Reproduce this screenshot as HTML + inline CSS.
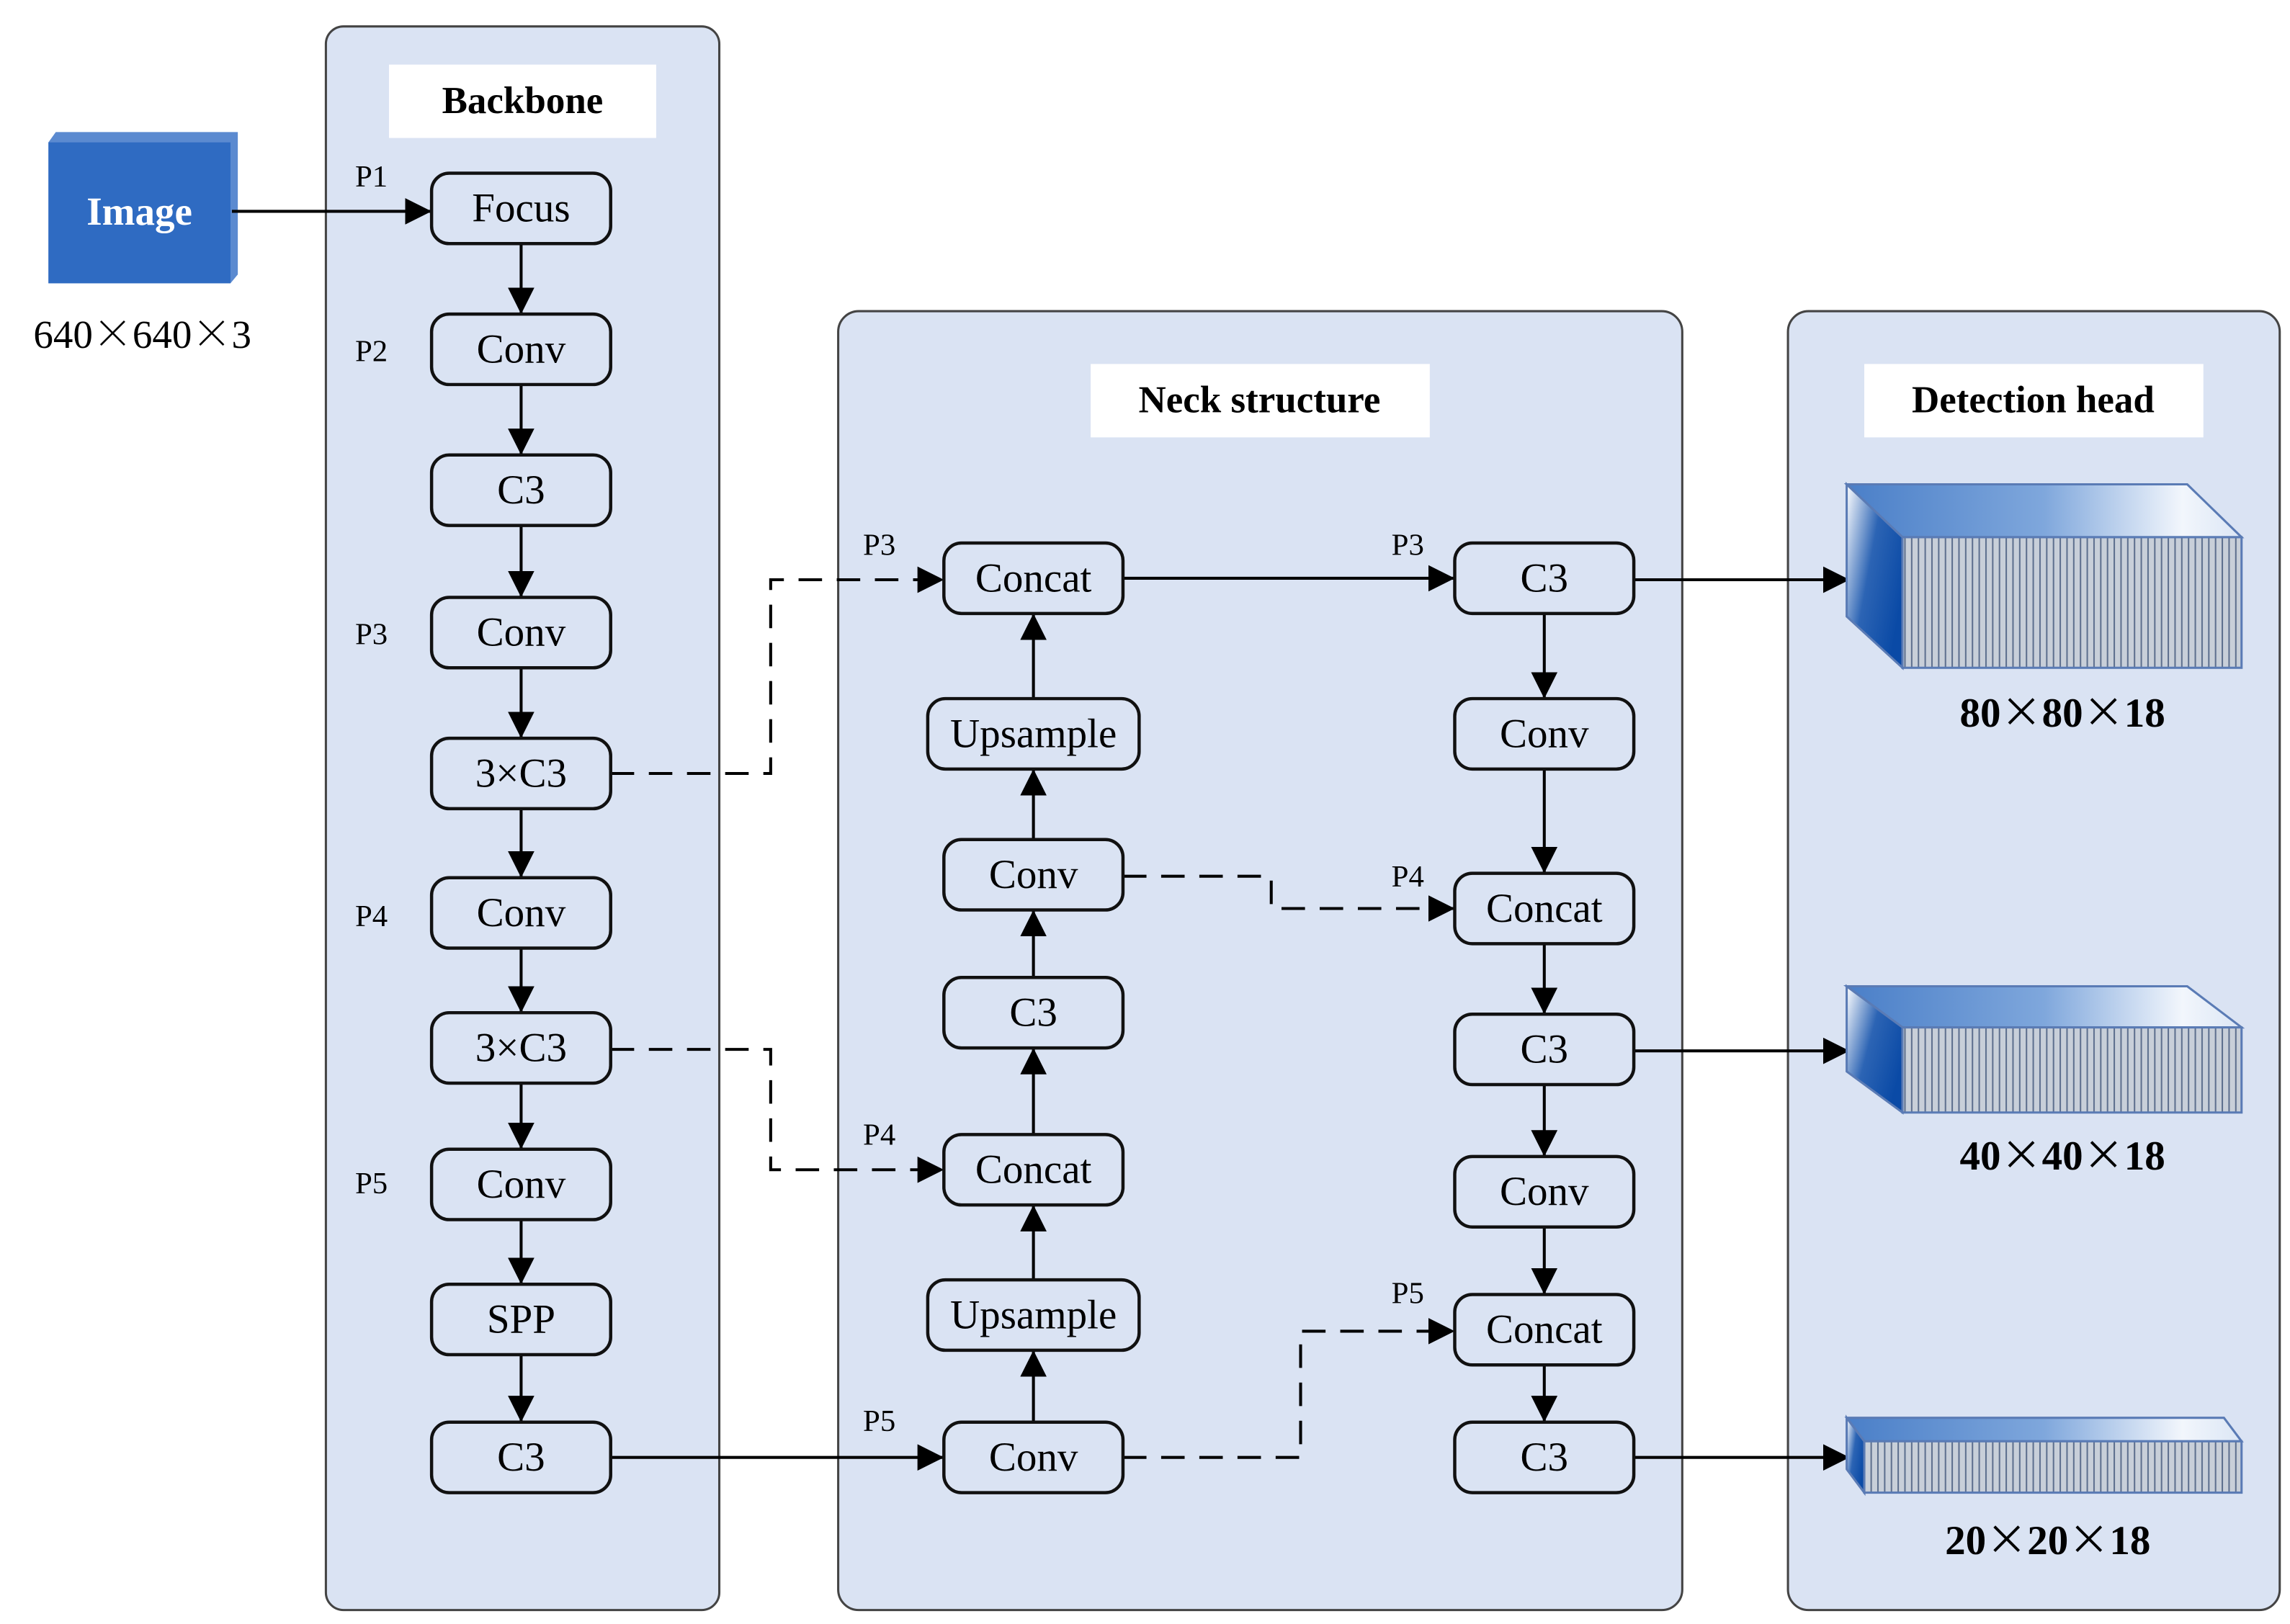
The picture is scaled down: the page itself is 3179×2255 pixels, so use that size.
<!DOCTYPE html>
<html><head><meta charset="utf-8"><style>html,body{margin:0;padding:0;background:#fff}svg{display:block}</style></head>
<body>
<svg width="3179" height="2255" viewBox="0 0 1560 1106.5" preserveAspectRatio="none" xmlns="http://www.w3.org/2000/svg" font-family="'Liberation Serif', serif">
<defs>
<marker id="ah" viewBox="0 0 10 10" refX="10" refY="5" markerWidth="18" markerHeight="18" markerUnits="userSpaceOnUse" orient="auto"><path d="M0,0L10,5L0,10z" fill="#000"/></marker>
<linearGradient id="top" x1="0" y1="0" x2="1" y2="0"><stop offset="0" stop-color="#4a7fc8"/><stop offset="0.5" stop-color="#7fa7dc"/><stop offset="0.85" stop-color="#f2f6fc"/><stop offset="1" stop-color="#dbe6f5"/></linearGradient>
<linearGradient id="side" x1="0" y1="0" x2="1" y2="0.6"><stop offset="0" stop-color="#ffffff"/><stop offset="0.5" stop-color="#2c64b4"/><stop offset="1" stop-color="#0a4aa6"/></linearGradient>
<pattern id="stripes" width="4.6" height="10" patternUnits="userSpaceOnUse"><rect width="4.6" height="10" fill="#c8cfd9"/><rect width="1" height="10" fill="#5d6f8e"/></pattern>
</defs>

<rect x="222" y="18" width="268" height="1079" rx="12" fill="#dae3f3" stroke="#444" stroke-width="1.5"/>
<rect x="571" y="212" width="575" height="885" rx="14" fill="#dae3f3" stroke="#444" stroke-width="1.5"/>
<rect x="1218" y="212" width="335" height="885" rx="14" fill="#dae3f3" stroke="#444" stroke-width="1.5"/>
<rect x="265" y="44" width="182" height="50" fill="#fff"/>
<rect x="743" y="248" width="231" height="50" fill="#fff"/>
<rect x="1270" y="248" width="231" height="50" fill="#fff"/>
<g font-weight="bold" font-size="26" text-anchor="middle">
<text x="356" y="77">Backbone</text>
<text x="858" y="281">Neck structure</text>
<text x="1385" y="281">Detection head</text>
</g>

<polygon points="33,97 38,90 162,90 162,187 157,193 33,193" fill="#5b8ad0"/>
<rect x="33" y="97" width="124" height="96" fill="#2f6bc2"/>
<text x="95" y="153" font-size="27" font-weight="bold" fill="#fff" text-anchor="middle">Image</text>
<text x="97" y="237" font-size="27" text-anchor="middle">640<tspan font-family="'Noto Sans CJK SC', sans-serif" font-weight="300">×</tspan>640<tspan font-family="'Noto Sans CJK SC', sans-serif" font-weight="300">×</tspan>3</text>

<g stroke="#000" stroke-width="2" fill="none">
<line x1="158" y1="144" x2="294" y2="144" marker-end="url(#ah)"/>
<line x1="355" y1="166" x2="355" y2="214" marker-end="url(#ah)"/>
<line x1="355" y1="262" x2="355" y2="310" marker-end="url(#ah)"/>
<line x1="355" y1="358" x2="355" y2="407" marker-end="url(#ah)"/>
<line x1="355" y1="455" x2="355" y2="503" marker-end="url(#ah)"/>
<line x1="355" y1="551" x2="355" y2="598" marker-end="url(#ah)"/>
<line x1="355" y1="646" x2="355" y2="690" marker-end="url(#ah)"/>
<line x1="355" y1="738" x2="355" y2="783" marker-end="url(#ah)"/>
<line x1="355" y1="831" x2="355" y2="875" marker-end="url(#ah)"/>
<line x1="355" y1="923" x2="355" y2="969" marker-end="url(#ah)"/>
<line x1="416" y1="993" x2="643" y2="993" marker-end="url(#ah)"/>
<line x1="704" y1="969" x2="704" y2="920" marker-end="url(#ah)"/>
<line x1="704" y1="872" x2="704" y2="821" marker-end="url(#ah)"/>
<line x1="704" y1="773" x2="704" y2="714" marker-end="url(#ah)"/>
<line x1="704" y1="666" x2="704" y2="620" marker-end="url(#ah)"/>
<line x1="704" y1="572" x2="704" y2="524" marker-end="url(#ah)"/>
<line x1="704" y1="476" x2="704" y2="418" marker-end="url(#ah)"/>
<line x1="765" y1="394" x2="991" y2="394" marker-end="url(#ah)"/>
<line x1="1052" y1="418" x2="1052" y2="476" marker-end="url(#ah)"/>
<line x1="1052" y1="524" x2="1052" y2="595" marker-end="url(#ah)"/>
<line x1="1052" y1="643" x2="1052" y2="691" marker-end="url(#ah)"/>
<line x1="1052" y1="739" x2="1052" y2="788" marker-end="url(#ah)"/>
<line x1="1052" y1="836" x2="1052" y2="882" marker-end="url(#ah)"/>
<line x1="1052" y1="930" x2="1052" y2="969" marker-end="url(#ah)"/>
<line x1="1113" y1="395" x2="1260" y2="395" marker-end="url(#ah)"/>
<line x1="1113" y1="716" x2="1260" y2="716" marker-end="url(#ah)"/>
<line x1="1113" y1="993" x2="1260" y2="993" marker-end="url(#ah)"/>
<g stroke-dasharray="16,10">
<polyline points="416,527 525,527 525,395 643,395" marker-end="url(#ah)"/>
<polyline points="416,715 525,715 525,797 643,797" marker-end="url(#ah)"/>
<polyline points="765,597 866,597 866,619 991,619" marker-end="url(#ah)"/>
<polyline points="765,993 886,993 886,907 991,907" marker-end="url(#ah)"/>
</g>
</g>

<g fill="#dae3f3" stroke="#111" stroke-width="2.2">
<rect x="294" y="118" width="122" height="48" rx="12"/>
<rect x="294" y="214" width="122" height="48" rx="12"/>
<rect x="294" y="310" width="122" height="48" rx="12"/>
<rect x="294" y="407" width="122" height="48" rx="12"/>
<rect x="294" y="503" width="122" height="48" rx="12"/>
<rect x="294" y="598" width="122" height="48" rx="12"/>
<rect x="294" y="690" width="122" height="48" rx="12"/>
<rect x="294" y="783" width="122" height="48" rx="12"/>
<rect x="294" y="875" width="122" height="48" rx="12"/>
<rect x="294" y="969" width="122" height="48" rx="12"/>
<rect x="643" y="370" width="122" height="48" rx="12"/>
<rect x="632" y="476" width="144" height="48" rx="12"/>
<rect x="643" y="572" width="122" height="48" rx="12"/>
<rect x="643" y="666" width="122" height="48" rx="12"/>
<rect x="643" y="773" width="122" height="48" rx="12"/>
<rect x="632" y="872" width="144" height="48" rx="12"/>
<rect x="643" y="969" width="122" height="48" rx="12"/>
<rect x="991" y="370" width="122" height="48" rx="12"/>
<rect x="991" y="476" width="122" height="48" rx="12"/>
<rect x="991" y="595" width="122" height="48" rx="12"/>
<rect x="991" y="691" width="122" height="48" rx="12"/>
<rect x="991" y="788" width="122" height="48" rx="12"/>
<rect x="991" y="882" width="122" height="48" rx="12"/>
<rect x="991" y="969" width="122" height="48" rx="12"/>
</g>
<g font-size="28" text-anchor="middle">
<text x="355" y="151">Focus</text>
<text x="355" y="247">Conv</text>
<text x="355" y="343">C3</text>
<text x="355" y="440">Conv</text>
<text x="355" y="536">3×C3</text>
<text x="355" y="631">Conv</text>
<text x="355" y="723">3×C3</text>
<text x="355" y="816">Conv</text>
<text x="355" y="908">SPP</text>
<text x="355" y="1002">C3</text>
<text x="704" y="403">Concat</text>
<text x="704" y="509">Upsample</text>
<text x="704" y="605">Conv</text>
<text x="704" y="699">C3</text>
<text x="704" y="806">Concat</text>
<text x="704" y="905">Upsample</text>
<text x="704" y="1002">Conv</text>
<text x="1052" y="403">C3</text>
<text x="1052" y="509">Conv</text>
<text x="1052" y="628">Concat</text>
<text x="1052" y="724">C3</text>
<text x="1052" y="821">Conv</text>
<text x="1052" y="915">Concat</text>
<text x="1052" y="1002">C3</text>
</g>
<g font-size="21" text-anchor="middle">
<text x="253" y="127">P1</text>
<text x="253" y="246">P2</text>
<text x="253" y="439">P3</text>
<text x="253" y="631">P4</text>
<text x="253" y="813">P5</text>
<text x="599" y="378">P3</text>
<text x="599" y="780">P4</text>
<text x="599" y="975">P5</text>
<text x="959" y="378">P3</text>
<text x="959" y="604">P4</text>
<text x="959" y="888">P5</text>
</g>

<g stroke="#5a7bb5" stroke-width="1.5">
<polygon points="1258,330 1490,330 1527,366 1296,366" fill="url(#top)"/>
<polygon points="1258,330 1296,366 1296,455 1258,420" fill="url(#side)"/>
<rect x="1296" y="366" width="231" height="89" fill="url(#stripes)"/>
<polygon points="1258,672 1490,672 1527,700 1296,700" fill="url(#top)"/>
<polygon points="1258,672 1296,700 1296,758 1258,730" fill="url(#side)"/>
<rect x="1296" y="700" width="231" height="58" fill="url(#stripes)"/>
<polygon points="1258,966 1515,966 1527,982 1270,982" fill="url(#top)"/>
<polygon points="1258,966 1270,982 1270,1017 1258,1001" fill="url(#side)"/>
<rect x="1270" y="982" width="257" height="35" fill="url(#stripes)"/>
</g>
<g font-size="28" font-weight="bold" text-anchor="middle">
<text x="1405" y="495">80<tspan font-family="'Noto Sans CJK SC', sans-serif" font-weight="400">×</tspan>80<tspan font-family="'Noto Sans CJK SC', sans-serif" font-weight="400">×</tspan>18</text>
<text x="1405" y="797">40<tspan font-family="'Noto Sans CJK SC', sans-serif" font-weight="400">×</tspan>40<tspan font-family="'Noto Sans CJK SC', sans-serif" font-weight="400">×</tspan>18</text>
<text x="1395" y="1059">20<tspan font-family="'Noto Sans CJK SC', sans-serif" font-weight="400">×</tspan>20<tspan font-family="'Noto Sans CJK SC', sans-serif" font-weight="400">×</tspan>18</text>
</g>
</svg>
</body></html>
